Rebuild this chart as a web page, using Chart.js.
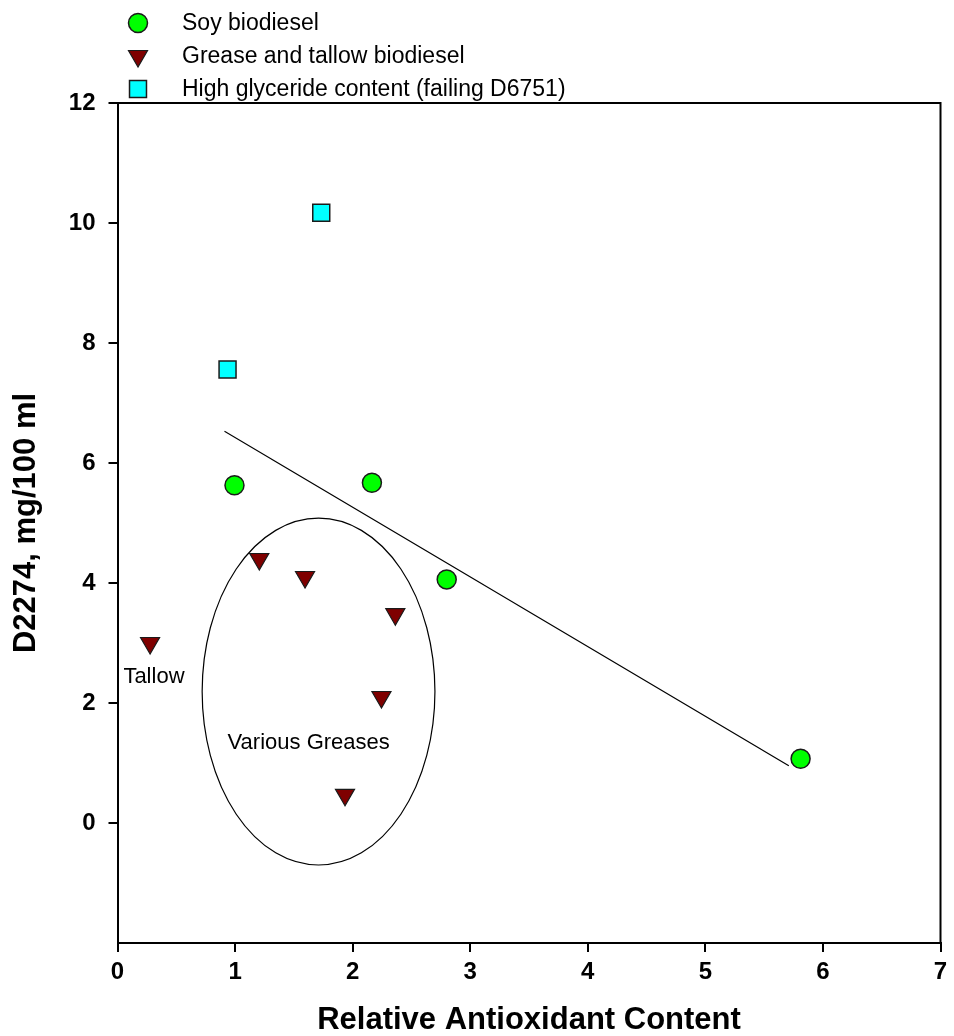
<!DOCTYPE html>
<html>
<head>
<meta charset="utf-8">
<script src="https://cdn.jsdelivr.net/npm/chart.js@4.4.0/dist/chart.umd.min.js"></script>
<style>
  body { margin: 0; background: #fff; }
  #wrap { width: 954px; height: 1036px; }
</style>
</head>
<body>
<div id="wrap"><canvas id="chart" width="954" height="1036"></canvas></div>
<script>
// values
const soyX = [0.995, 2.164, 2.80, 5.81];
const soyY = [5.63, 5.67, 4.06, 1.07];
const greaseX = [0.277, 1.206, 1.595, 2.363, 2.245, 1.935];
const greaseY = [3.00, 4.40, 4.10, 3.48, 2.10, 0.47];
const glycX = [1.733, 0.936];
const glycY = [10.17, 7.56];
const fitX = [0.91, 5.71];
const fitY = [6.53, 0.955];
const xTicks = [0, 1, 2, 3, 4, 5, 6, 7];
const yTicks = [-2, 0, 2, 4, 6, 8, 10, 12];
const greaseRing = {cx: 1.71, cy: 2.19, rx: 0.99, ry: 2.89};
const notes = [
  {text: 'Tallow', x: 0.31, y: 2.44},
  {text: 'Various Greases', x: 1.626, y: 1.33}
];

const FONT = "'Liberation Sans', Arial, Helvetica, sans-serif";

function pts(xs, ys) {
  return xs.map((x, i) => ({x: x, y: ys[i]}));
}

// legend in the top left, one row per marker series
const legendRows = {
  id: 'legendRows',
  afterDraw(chart) {
    const ctx = chart.ctx;
    const rows = chart.data.datasets.filter(d => d.legend);
    ctx.save();
    rows.forEach((d, i) => {
      const y = 23 + i * 33;
      ctx.fillStyle = d.backgroundColor;
      ctx.strokeStyle = d.borderColor;
      ctx.lineWidth = d.borderWidth;
      Chart.helpers.drawPoint(ctx, {
        pointStyle: d.pointStyle,
        rotation: d.rotation || 0,
        radius: d.pointRadius,
        borderWidth: d.borderWidth
      }, 138, y);
      ctx.fillStyle = '#000';
      ctx.font = '23px ' + FONT;
      ctx.textAlign = 'left';
      ctx.textBaseline = 'middle';
      ctx.fillText(d.label, 182, y + 1);
    });
    ctx.restore();
  }
};

// box round the plot, ring round the greases and the two notes
const extras = {
  id: 'extras',
  afterDatasetsDraw(chart) {
    const ctx = chart.ctx;
    const xs = chart.scales.x, ys = chart.scales.y;
    ctx.save();
    const cx = xs.getPixelForValue(greaseRing.cx);
    const cy = ys.getPixelForValue(greaseRing.cy);
    const rx = xs.getPixelForValue(greaseRing.cx + greaseRing.rx) - cx;
    const ry = cy - ys.getPixelForValue(greaseRing.cy + greaseRing.ry);
    ctx.beginPath();
    ctx.ellipse(cx, cy, rx, ry, 0, 0, Math.PI * 2);
    ctx.strokeStyle = '#000';
    ctx.lineWidth = 1.2;
    ctx.stroke();

    ctx.fillStyle = '#000';
    ctx.font = '22px ' + FONT;
    ctx.textAlign = 'center';
    ctx.textBaseline = 'middle';
    notes.forEach(n => {
      ctx.fillText(n.text, xs.getPixelForValue(n.x), ys.getPixelForValue(n.y));
    });

    const a = chart.chartArea;
    ctx.beginPath();
    ctx.moveTo(a.left, a.top);
    ctx.lineTo(a.right, a.top);
    ctx.lineTo(a.right, a.bottom);
    ctx.lineWidth = 2;
    ctx.stroke();
    ctx.restore();
  }
};

new Chart('chart', {
  type: 'scatter',
  data: {
    datasets: [
      {
        label: 'Soy biodiesel',
        legend: true,
        data: pts(soyX, soyY),
        pointStyle: 'circle',
        pointRadius: 9.5,
        backgroundColor: '#00ff00',
        borderColor: '#1a1a1a',
        borderWidth: 1.5
      },
      {
        label: 'Grease and tallow biodiesel',
        legend: true,
        data: pts(greaseX, greaseY),
        pointStyle: 'triangle',
        rotation: 180,
        pointRadius: 11,
        backgroundColor: '#7f0000',
        borderColor: '#1a1a1a',
        borderWidth: 1.2
      },
      {
        label: 'High glyceride content (failing D6751)',
        legend: true,
        data: pts(glycX, glycY),
        pointStyle: 'rect',
        pointRadius: 12,
        backgroundColor: '#00ffff',
        borderColor: '#1a1a1a',
        borderWidth: 1.5
      },
      {
        label: 'fit',
        data: pts(fitX, fitY),
        showLine: true,
        pointRadius: 0,
        borderColor: '#000',
        borderWidth: 1.2,
        fill: false
      }
    ]
  },
  options: {
    responsive: false,
    animation: false,
    events: [],
    layout: {padding: {top: 103, right: -6, left: 0, bottom: 0}},
    plugins: {
      legend: {display: false},
      tooltip: {enabled: false}
    },
    scales: {
      x: {
        type: 'linear',
        min: 0,
        max: 7,
        afterBuildTicks: s => { s.ticks = xTicks.map(v => ({value: v})); },
        afterFit: s => { s.height = 93; s.paddingLeft = 0; s.paddingRight = 0; },
        border: {display: true, color: '#000', width: 2},
        grid: {drawOnChartArea: false, drawTicks: true, tickLength: 9, color: '#000', lineWidth: 2},
        ticks: {color: '#000', padding: 6, font: {family: FONT, size: 24, weight: 'bold'}},
        title: {
          display: true,
          text: 'Relative Antioxidant Content',
          color: '#000',
          padding: 0,
          font: {family: FONT, size: 31, weight: 'bold', lineHeight: 1}
        }
      },
      y: {
        type: 'linear',
        min: -2,
        max: 12,
        afterBuildTicks: s => { s.ticks = yTicks.map(v => ({value: v})); },
        afterFit: s => { s.width = 117.5; s.paddingTop = 0; s.paddingBottom = 0; },
        border: {display: true, color: '#000', width: 2},
        grid: {
          drawOnChartArea: false,
          drawTicks: true,
          tickLength: 9,
          lineWidth: 2,
          color: c => (c.tick && c.tick.value === -2) ? 'rgba(0,0,0,0)' : '#000'
        },
        ticks: {
          color: '#000',
          padding: 13,
          font: {family: FONT, size: 24, weight: 'bold'},
          callback: v => v === -2 ? '' : v
        },
        title: {
          display: true,
          text: 'D2274, mg/100 ml',
          color: '#000',
          padding: {top: 8, bottom: 0},
          font: {family: FONT, size: 31, weight: 'bold', lineHeight: 1.2}
        }
      }
    }
  },
  plugins: [legendRows, extras]
});
</script>
</body>
</html>
